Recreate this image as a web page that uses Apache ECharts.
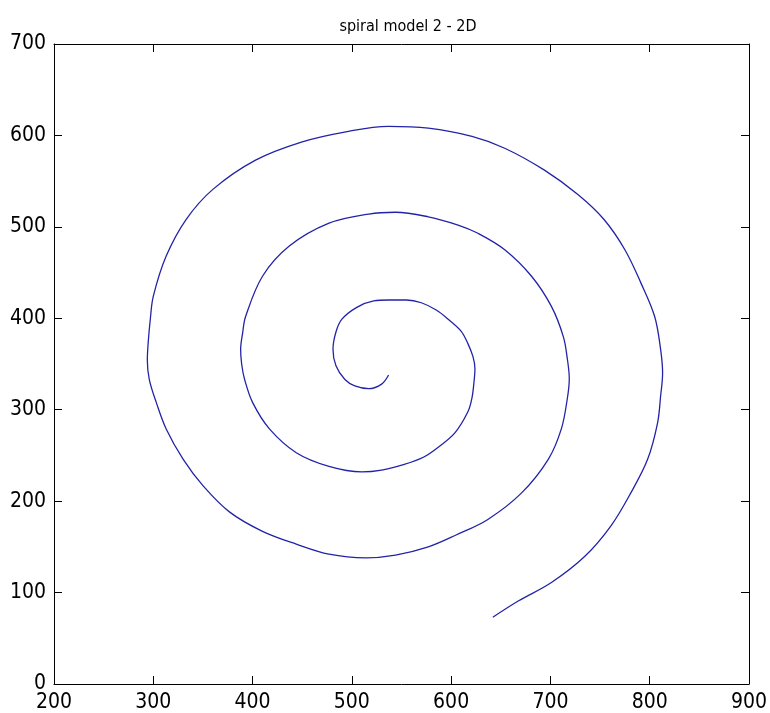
<!DOCTYPE html>
<html>
<head>
<meta charset="utf-8">
<script src="https://cdn.jsdelivr.net/npm/echarts@6/dist/echarts.min.js"></script>
<style>
  html, body { margin: 0; padding: 0; background: #fff; }
  #main { width: 770px; height: 713px; }
</style>
</head>
<body>
<div id="main"></div>
<script>
// spiral points, inner end first
var spiralX = [537, 530, 517, 503, 493, 484, 481, 484, 490, 505,
  522, 537, 555, 570, 585, 597, 610, 617, 622, 624,
  623, 621, 617, 604, 587, 572, 552, 530, 510, 477,
  444, 417, 400, 392, 389, 388, 390, 393, 410, 437, 477,
  517, 544, 577, 607, 627, 654, 681, 701, 713, 717, 719, 717, 711,
  698, 671, 637, 605, 577, 544, 514, 477,
  444, 410, 377, 350, 330, 313, 303, 296, 294, 295, 297, 300,
  313, 333, 360, 403, 450, 494, 537, 577, 621, 654,
  694, 728, 754, 775, 791, 805, 811, 813, 811, 808,
  798, 781, 761, 735, 701, 668, 642];
var spiralY = [338, 328, 323, 326, 333, 348, 366, 385, 399, 412,
  419, 420, 420, 417, 409, 399, 386, 372, 358, 345,
  330, 313, 298, 275, 259, 248, 240, 234, 232, 238,
  253, 279, 308, 333, 350, 366, 384, 402, 446, 479, 504,
  514, 516, 511, 502, 493, 475, 446, 413, 380, 356, 334, 312, 279,
  246, 209, 180, 163, 150, 141, 138, 142,
  153, 167, 188, 217, 246, 279, 308, 333, 354, 375, 399, 424,
  468, 508, 541, 573, 593, 604, 610, 608, 599, 586,
  562, 535, 508, 475, 439, 402, 366, 340, 315, 286,
  246, 209, 173, 140, 111, 91, 73];
var xTicks = [200, 900, 100];
var yTicks = [0, 700, 100];
var titleText = 'spiral model 2 - 2D';

var chart = echarts.init(document.getElementById('main'), null, { renderer: 'canvas' });

var seriesData = spiralX.map(function (x, i) { return [x, spiralY[i]]; });

var fontStack = '"DejaVu Sans Condensed", "Liberation Sans Narrow", "DejaVu Sans", sans-serif';
var labelFont = { color: '#000', fontFamily: fontStack, fontSize: 21 };
var lineStyle = { color: '#000', width: 1 };

function axisBase(range, withLabel) {
  return {
    type: 'value',
    min: range[0],
    max: range[1],
    interval: range[2],
    splitLine: { show: false },
    axisLine: { show: true, onZero: false, lineStyle: lineStyle },
    axisTick: { show: true, inside: true, length: 8, lineStyle: lineStyle },
    axisLabel: Object.assign({ show: withLabel, margin: 8 }, labelFont)
  };
}

var option = {
  animation: false,
  backgroundColor: '#fff',
  title: {
    text: titleText,
    left: 403,
    top: 14,
    textAlign: 'center',
    textStyle: {
      color: '#000',
      fontWeight: 'normal',
      fontFamily: fontStack,
      fontSize: 16
    }
  },
  grid: { left: 54, right: 18, top: 44, bottom: 28 },
  xAxis: [
    Object.assign(axisBase(xTicks, true), { position: 'bottom' }),
    Object.assign(axisBase(xTicks, false), { position: 'top' })
  ],
  yAxis: [
    Object.assign(axisBase(yTicks, true), { position: 'left' }),
    Object.assign(axisBase(yTicks, false), { position: 'right' })
  ],
  series: [{
    type: 'line',
    xAxisIndex: 0,
    yAxisIndex: 0,
    data: seriesData,
    showSymbol: false,
    smooth: 0.35,
    lineStyle: { color: '#2323a8', width: 1.3 }
  }]
};

chart.setOption(option);
</script>
</body>
</html>
